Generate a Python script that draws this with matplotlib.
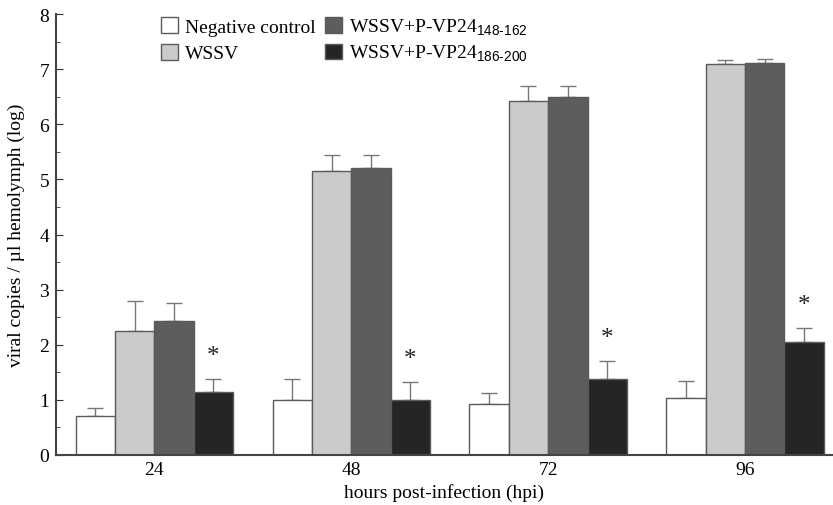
import matplotlib
matplotlib.use("Agg")
import matplotlib.pyplot as plt
import numpy as np
from matplotlib.ticker import MultipleLocator

plt.rcParams['font.family'] = ['Liberation Serif', 'DejaVu Serif']
plt.rcParams['mathtext.fontset'] = 'custom'
plt.rcParams['mathtext.rm'] = 'Liberation Sans'

groups = ["24", "48", "72", "96"]
series = ["Negative control", "WSSV", "WSSV+P-VP24$_{\\mathrm{148\\text{-}162}}$",
          "WSSV+P-VP24$_{\\mathrm{186\\text{-}200}}$"]
neg = [0.70, 1.00, 0.93, 1.03]
wssv = [2.25, 5.15, 6.42, 7.10]
p148 = [2.43, 5.20, 6.50, 7.11]
p186 = [1.15, 1.00, 1.38, 2.05]
neg_err = [0.15, 0.37, 0.20, 0.32]
wssv_err = [0.55, 0.30, 0.28, 0.07]
p148_err = [0.32, 0.25, 0.20, 0.07]
p186_err = [0.23, 0.33, 0.33, 0.25]
colors = ["#ffffff", "#cbcbcb", "#5d5d5d", "#252525"]

fig = plt.figure(figsize=(8.33, 5.06), dpi=100)
ax = fig.add_axes([56/833, 1-456/506, 1-56/833, (456-15)/506])

x = np.arange(1, 5)
w = 0.2
vals = [neg, wssv, p148, p186]
errs = [neg_err, wssv_err, p148_err, p186_err]
handles = []
for i, (v, e, c, lab) in enumerate(zip(vals, errs, colors, series)):
    pos = x + (i - 1.5) * w
    b = ax.bar(pos, v, width=w, color=c, edgecolor="#5a5a5a", linewidth=1.0, label=lab, zorder=2)
    handles.append(b)
    ax.errorbar(pos, v, yerr=[np.zeros(4), e], fmt='none', ecolor="#777777",
                elinewidth=1.0, capsize=6, capthick=1.0, zorder=1)

# significance asterisks above P-VP24(186-200) bars
for xi, v, e in zip(x + 1.5 * w, p186, p186_err):
    ax.text(xi, v + e + 0.42, "*", ha="center", va="center", fontsize=18, color="#222222")

ax.set_xlim(0.5, 4.447)
ax.set_ylim(0, 8)
ax.set_xticks(x)
ax.set_xticklabels(groups, fontsize=14)
ax.yaxis.set_major_locator(MultipleLocator(1))
ax.yaxis.set_minor_locator(MultipleLocator(0.5))
ax.tick_params(axis='y', which='major', direction='in', length=5, labelsize=14, color="#333333", pad=5)
ax.tick_params(axis='y', which='minor', direction='in', length=3, color="#333333")
ax.tick_params(axis='x', which='major', length=0, labelsize=14, pad=4)
for s in ["top", "right"]:
    ax.spines[s].set_visible(False)
for s in ["left", "bottom"]:
    ax.spines[s].set_color("#444444")
    ax.spines[s].set_linewidth(1.5)

ax.set_ylabel("viral copies / µl hemolymph (log)", fontsize=14, labelpad=10)
ax.set_xlabel("hours post-infection (hpi)", fontsize=14, labelpad=4)

common = dict(loc="upper left", bbox_transform=fig.transFigure, frameon=False,
              borderaxespad=0, borderpad=0, fontsize=14, handlelength=0.87,
              handleheight=0.87, handletextpad=0.35)
leg1 = ax.legend(handles[:2], series[:2], bbox_to_anchor=(161/833, 1-18/506),
                 labelspacing=0.42, **common)
ax.add_artist(leg1)
ax.legend(handles[2:], series[2:], bbox_to_anchor=(325/833, 1-18/506),
          labelspacing=0.3, **common)

fig.savefig("out.png", dpi=100)
